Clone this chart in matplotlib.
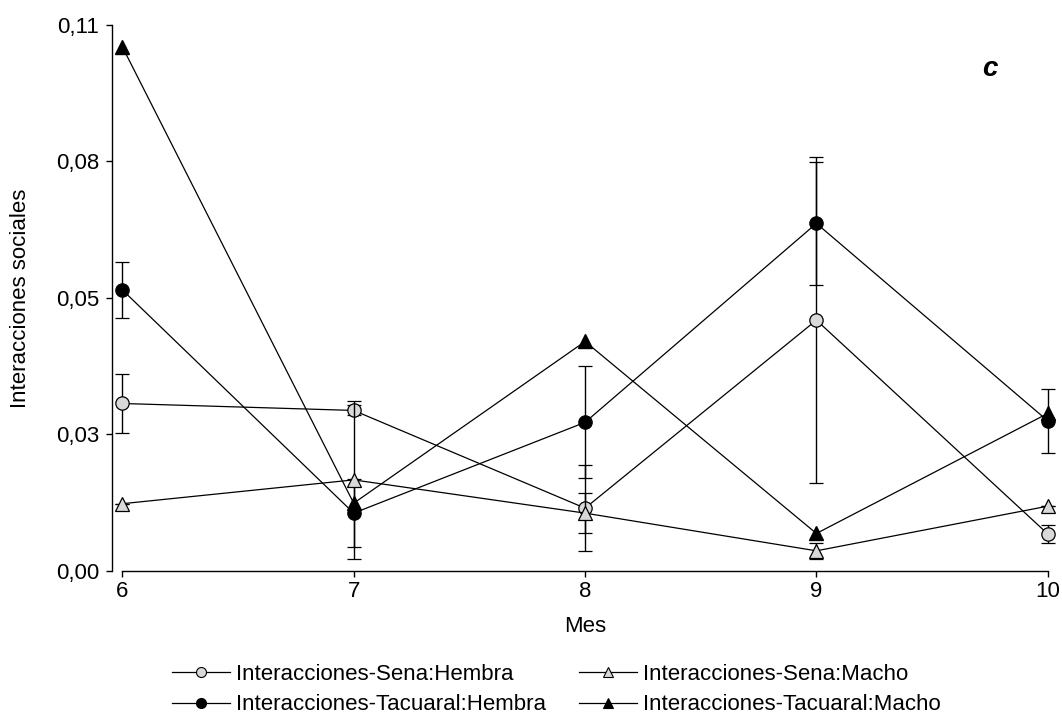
import matplotlib.pyplot as plt
from matplotlib.lines import Line2D

plt.rcParams['font.family'] = ['Liberation Sans', 'DejaVu Sans']

meses = [6, 7, 8, 9, 10]

sena_hembra = [0.0337, 0.0323, 0.0126, 0.0505, 0.0074]
sena_hembra_err = [0.0060, 0.0010, 0.0086, 0.0328, 0.0019]

sena_macho = [0.0135, 0.0183, 0.0116, 0.0040, 0.0130]
sena_macho_err = [0.0, 0.0159, 0.0040, 0.0016, 0.0]

tacuaral_hembra = [0.0566, 0.0116, 0.0299, 0.0700, 0.0302]
tacuaral_hembra_err = [0.0056, 0.0068, 0.0113, 0.0124, 0.0065]

tacuaral_macho = [0.1056, 0.0136, 0.0462, 0.0075, 0.0317]

y_ticks = [0.0, 0.0275, 0.055, 0.0825, 0.11]
y_tick_labels = ['0,00', '0,03', '0,05', '0,08', '0,11']

gris = '#d9d9d9'

fig = plt.figure(figsize=(10.62, 7.22), dpi=100)
ax = fig.add_axes([0.1152, 0.2096, 0.8714, 0.7558])

common = dict(color='black', lw=0.9, markersize=9.6, markeredgewidth=0.9,
              markeredgecolor='black', ecolor='black', elinewidth=1.0,
              capsize=5, capthick=1.0, clip_on=False)

ax.errorbar(meses, sena_hembra, yerr=sena_hembra_err, marker='o',
            markerfacecolor=gris, zorder=3, **common)
ax.errorbar(meses, tacuaral_hembra, yerr=tacuaral_hembra_err, marker='o',
            markerfacecolor='black', zorder=4, **common)
ax.plot(meses, tacuaral_macho, color='black', lw=0.9, marker='^',
        markersize=9.6, markerfacecolor='black', markeredgecolor='black',
        clip_on=False, zorder=4)
ax.errorbar(meses, sena_macho, yerr=sena_macho_err, marker='^',
            markerfacecolor=gris, zorder=5, **common)

ax.set_xlim(6, 10)
ax.set_ylim(0, 0.11)
ax.set_xticks(meses)
ax.set_yticks(y_ticks)
ax.set_yticklabels(y_tick_labels)

for s in ['top', 'right']:
    ax.spines[s].set_visible(False)
ax.spines['left'].set_position(('outward', 7.2))
for s in ['left', 'bottom']:
    ax.spines[s].set_linewidth(1.0)
ax.tick_params(direction='out', length=4.4, width=1.0, labelsize=16)
ax.tick_params(axis='y', pad=5)
ax.tick_params(axis='x', pad=3)

ax.set_xlabel('Mes', fontsize=16)
ax.xaxis.set_label_coords(0.5, -0.083)
ax.set_ylabel('Interacciones sociales', fontsize=16)
ax.yaxis.set_label_coords(-0.099, 0.5)

fig.text(990 / 1062, 1 - 69 / 722, 'c', fontsize=20, fontweight='bold',
         fontstyle='italic', ha='center', va='center')


def proxy(marker, face):
    return Line2D([], [], color='black', lw=0.9, marker=marker, markersize=7.2,
                  markerfacecolor=face, markeredgecolor='black',
                  markeredgewidth=0.8)


handles = [proxy('o', gris), proxy('o', 'black'), proxy('^', gris), proxy('^', 'black')]
labels = ['Interacciones-Sena:Hembra', 'Interacciones-Tacuaral:Hembra',
          'Interacciones-Sena:Macho', 'Interacciones-Tacuaral:Macho']
fig.legend(handles, labels, ncol=2, loc='upper left',
           bbox_to_anchor=(172 / 1062, 1 - 664 / 722), frameon=False,
           fontsize=16, handlelength=2.6, handletextpad=0.27,
           columnspacing=1.5, labelspacing=0.42, borderaxespad=0,
           borderpad=0)

fig.savefig('out.png', dpi=100)
